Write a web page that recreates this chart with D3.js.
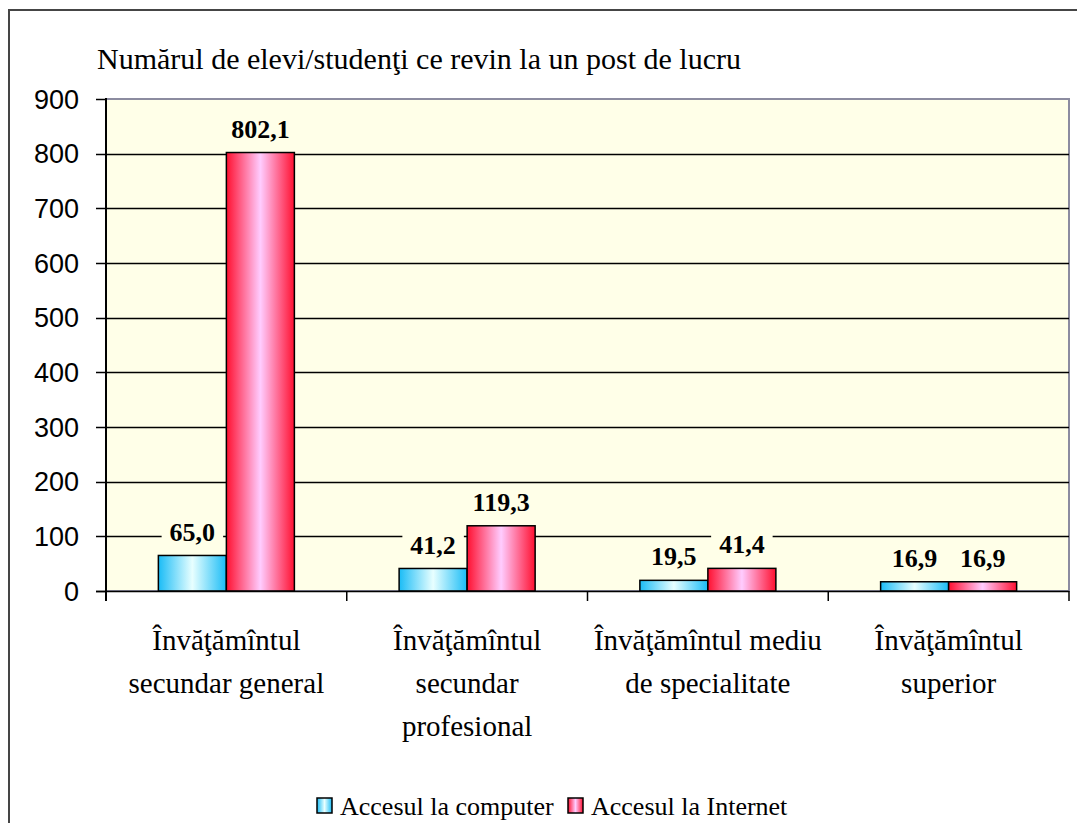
<!DOCTYPE html>
<html>
<head>
<meta charset="utf-8">
<script src="https://cdn.jsdelivr.net/npm/d3@7"></script>
<style>
  body { margin: 0; background: #fff; }
  svg { display: block; }
</style>
</head>
<body>
<div id="viz"></div>
<script>
(function () {
  var categories = [
    ['Învăţămîntul', 'secundar general'],
    ['Învăţămîntul', 'secundar', 'profesional'],
    ['Învăţămîntul mediu', 'de specialitate'],
    ['Învăţămîntul', 'superior']
  ];
  var seriesNames = ['Accesul la computer', 'Accesul la Internet'];
  var computerValues = [65.0, 41.2, 19.5, 16.9];
  var internetValues = [802.1, 119.3, 41.4, 16.9];
  var yTicks = [0, 100, 200, 300, 400, 500, 600, 700, 800, 900];
  var titleText = 'Numărul de elevi/studenţi ce revin la un post de lucru';

  var width = 1077, height = 823;
  var plot = { left: 106, right: 1069, top: 99, bottom: 591 };
  var plotBg = '#ffffe8';
  var serif = '"Liberation Serif", "Times New Roman", serif';
  var sans = '"Liberation Sans", Arial, sans-serif';

  var svg = d3.select('#viz').append('svg')
    .attr('width', width)
    .attr('height', height);

  // gradients for the bars
  var defs = svg.append('defs');
  function addGrad(id, edge, mid) {
    var g = defs.append('linearGradient').attr('id', id)
      .attr('x1', 0).attr('x2', 1).attr('y1', 0).attr('y2', 0);
    g.append('stop').attr('offset', '0%').attr('stop-color', edge);
    g.append('stop').attr('offset', '50%').attr('stop-color', mid);
    g.append('stop').attr('offset', '100%').attr('stop-color', edge);
  }
  addGrad('gradBlue', '#1abcf6', '#e8ffff');
  addGrad('gradRed', '#ff1030', '#ffccff');
  var fills = ['url(#gradBlue)', 'url(#gradRed)'];

  // outer frame
  svg.append('rect')
    .attr('x', 9).attr('y', 10)
    .attr('width', width + 20).attr('height', height + 20)
    .attr('fill', 'none')
    .attr('stroke', '#454545')
    .attr('stroke-width', 2);

  var y = d3.scaleLinear().domain([0, 900]).range([plot.bottom, plot.top]);
  var x = d3.scaleBand()
    .domain(d3.range(categories.length))
    .range([plot.left, plot.right])
    .padding(0);
  var xSub = d3.scaleBand()
    .domain(d3.range(seriesNames.length))
    .range([0, x.bandwidth()])
    .paddingInner(0)
    .paddingOuter(0.77);

  // plot area
  svg.append('rect')
    .attr('x', plot.left).attr('y', plot.top)
    .attr('width', plot.right - plot.left)
    .attr('height', plot.bottom - plot.top)
    .attr('fill', plotBg)
    .attr('stroke', '#8c8ca0')
    .attr('stroke-width', 2);

  // gridlines + y ticks
  svg.append('g').selectAll('line')
    .data(yTicks.filter(function (d) { return d > 0 && d < 900; }))
    .enter().append('line')
    .attr('x1', plot.left - 10).attr('x2', plot.right)
    .attr('y1', function (d) { return Math.round(y(d)) + 0.5; })
    .attr('y2', function (d) { return Math.round(y(d)) + 0.5; })
    .attr('stroke', '#000')
    .attr('stroke-width', 1.5);

  svg.append('g').selectAll('line')
    .data([0, 900])
    .enter().append('line')
    .attr('x1', plot.left - 10).attr('x2', plot.left)
    .attr('y1', function (d) { return Math.round(y(d)) + 0.5; })
    .attr('y2', function (d) { return Math.round(y(d)) + 0.5; })
    .attr('stroke', '#000')
    .attr('stroke-width', 1.5);

  svg.append('g').selectAll('text')
    .data(yTicks)
    .enter().append('text')
    .attr('x', 79)
    .attr('y', function (d) { return y(d); })
    .attr('dy', '0.36em')
    .attr('text-anchor', 'end')
    .style('font-family', sans)
    .style('font-size', '27px')
    .attr('fill', '#000')
    .text(function (d) { return d; });

  // bars
  var groups = svg.append('g').selectAll('g')
    .data(categories.map(function (c, i) { return [computerValues[i], internetValues[i]]; }))
    .enter().append('g')
    .attr('transform', function (d, i) { return 'translate(' + x(i) + ',0)'; });

  groups.selectAll('rect')
    .data(function (d) { return d; })
    .enter().append('rect')
    .attr('x', function (d, j) { return xSub(j); })
    .attr('y', function (d) { return y(d); })
    .attr('width', xSub.bandwidth())
    .attr('height', function (d) { return y(0) - y(d); })
    .attr('fill', function (d, j) { return fills[j]; })
    .attr('stroke', '#000')
    .attr('stroke-width', 1.5);

  // axes lines
  svg.append('line')
    .attr('x1', plot.left).attr('x2', plot.left)
    .attr('y1', plot.top - 1).attr('y2', plot.bottom + 10)
    .attr('stroke', '#000').attr('stroke-width', 2);
  svg.append('line')
    .attr('x1', plot.left - 10).attr('x2', plot.right)
    .attr('y1', plot.bottom + 0.5).attr('y2', plot.bottom + 0.5)
    .attr('stroke', '#000').attr('stroke-width', 1.5);
  svg.append('g').selectAll('line')
    .data(d3.range(categories.length + 1))
    .enter().append('line')
    .attr('x1', function (i) { return i < categories.length ? x(i) : plot.right; })
    .attr('x2', function (i) { return i < categories.length ? x(i) : plot.right; })
    .attr('y1', plot.bottom).attr('y2', plot.bottom + 10)
    .attr('stroke', '#000').attr('stroke-width', 1.5);

  // value labels with background to clear gridlines
  var labels = groups.selectAll('g.lbl')
    .data(function (d) { return d; })
    .enter().append('g')
    .attr('class', 'lbl')
    .attr('transform', function (d, j) {
      return 'translate(' + (xSub(j) + xSub.bandwidth() / 2) + ',' + (y(d) - 24) + ')';
    });
  var lblBg = labels.append('rect').attr('fill', plotBg);
  var lblText = labels.append('text')
    .attr('text-anchor', 'middle')
    .attr('dy', '0.35em')
    .style('font-family', serif)
    .style('font-weight', 'bold')
    .style('font-size', '26px')
    .attr('fill', '#000')
    .text(function (d) { return d3.format('.1f')(d).replace('.', ','); });
  lblBg.each(function () {
    var b = this.parentNode.querySelector('text').getBBox();
    d3.select(this)
      .attr('x', b.x - 8).attr('y', b.y - 2)
      .attr('width', b.width + 16).attr('height', b.height + 4);
  });

  // category labels
  var catText = svg.append('g').selectAll('text')
    .data(categories)
    .enter().append('text')
    .attr('text-anchor', 'middle')
    .style('font-family', serif)
    .style('font-size', '29px')
    .attr('fill', '#000');
  catText.selectAll('tspan')
    .data(function (d, i) { return d.map(function (t) { return { t: t, i: i }; }); })
    .enter().append('tspan')
    .attr('x', function (d) { return x(d.i) + x.bandwidth() / 2; })
    .attr('y', function (d, k) { return 650 + k * 43; })
    .text(function (d) { return d.t; });

  // title
  svg.append('text')
    .attr('x', 97).attr('y', 69)
    .style('font-family', serif)
    .style('font-size', '30px')
    .attr('fill', '#000')
    .text(titleText);

  // legend
  var legendX = [317, 568];
  var legend = svg.append('g').selectAll('g')
    .data(seriesNames)
    .enter().append('g')
    .attr('transform', function (d, i) { return 'translate(' + legendX[i] + ',798)'; });
  legend.append('rect')
    .attr('width', 15).attr('height', 15)
    .attr('fill', function (d, i) { return fills[i]; })
    .attr('stroke', '#000').attr('stroke-width', 1.5);
  legend.append('text')
    .attr('x', 23).attr('y', 7.5)
    .attr('dy', '0.35em')
    .style('font-family', serif)
    .style('font-size', '26px')
    .attr('fill', '#000')
    .text(function (d) { return d; });
})();
</script>
</body>
</html>
